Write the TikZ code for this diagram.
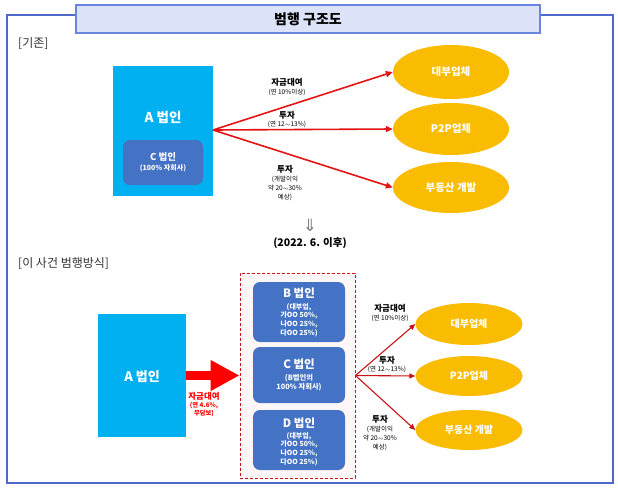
\documentclass[tikz,border=0pt]{standalone}
\usepackage{fontspec}
\setmainfont{Noto Sans CJK KR}
\newfontfamily\djv{DejaVu Sans}
\usetikzlibrary{arrows.meta,shapes.geometric}
\definecolor{frameblue}{RGB}{78,104,204}
\definecolor{titlefill}{RGB}{220,226,248}
\definecolor{titleline}{RGB}{104,132,222}
\definecolor{cyanbox}{RGB}{0,176,240}
\definecolor{darkbox}{RGB}{68,114,196}
\definecolor{gold}{RGB}{250,188,0}
\definecolor{arrred}{RGB}{228,20,20}
\definecolor{dashred}{RGB}{200,20,20}
\definecolor{dashfill}{RGB}{255,247,247}
\definecolor{txtgray}{RGB}{50,50,50}
\newcommand{\fs}[1]{\fontsize{#1}{#1}\selectfont}
\newcommand{\fss}[2]{\fontsize{#1}{#2}\selectfont}
\tikzset{
  cyanrect/.style={fill=cyanbox, draw=none, inner sep=0pt},
  bluebox/.style={fill=darkbox, draw=none, rounded corners=7pt, inner sep=0pt},
  goldell/.style={ellipse, fill=gold, draw=none, inner sep=0pt, text=white, font=\bfseries\fs{10.5}},
  thinarr/.style={draw=arrred, line width=1.6pt, -{Triangle[length=7pt,width=6pt]}},
  thinarr2/.style={draw=dashred, line width=1.1pt, -{Triangle[length=6pt,width=5pt]}},
  lbl/.style={inner sep=0pt, align=center, font=\bfseries\fs{8.5}, text=black},
  sublbl/.style={inner sep=0pt, align=center, font=\fss{6.5}{9}, text=black},
  wtitle/.style={inner sep=0pt, text=white, font=\bfseries},
}
\begin{document}
\begin{tikzpicture}[x=1pt,y=-1pt]
\useasboundingbox (0,0) rectangle (618,490);
\fill[white] (0,0) rectangle (618,490);
% outer frame
\draw[frameblue, line width=2pt] (7,15) rectangle (613,483);
\node[fill=titlefill, draw=titleline, line width=1.8pt, minimum width=464pt, minimum height=28pt, inner sep=0pt] (title) at (308,19) {};
\node[inner sep=0pt, font=\bfseries\fs{14}] (titletxt) at (title.center) {범행 구조도};
\node[anchor=west, inner sep=0pt, font=\fs{12}, text=txtgray] (old) at (18,44) {[기존]};

% ---------------- top part
\node[cyanrect, minimum width=100pt, minimum height=130pt] (atop) at (163,131) {};
\node[wtitle, font=\bfseries\fs{13.5}] (atoptxt) at (163,117) {A 법인};
\node[bluebox, minimum width=80pt, minimum height=45pt] (ctop) at (163,162.5) {};
\node[wtitle, font=\bfseries\fs{9.5}] (ctoptxt) at (163,157) {C 법인};
\node[inner sep=0pt, text=white, font=\bfseries\fs{7}] (ctopsub) at (163,168.5) {(100\% 자회사)};

\node[goldell, minimum width=116pt, minimum height=54pt] (e1) at (451,72) {대부업체};
\node[goldell, minimum width=116pt, minimum height=52pt] (e2) at (451,129) {P2P업체};
\node[goldell, minimum width=116pt, minimum height=51pt] (e3) at (451,187.5) {부동산 개발};

\coordinate (atopout) at (213,130);
\draw[thinarr] (atopout) -- (e1.west);
\draw[thinarr] (atopout) -- (e2.west);
\draw[thinarr] (atopout) -- (e3.west);

\node[lbl] (l1) at (287,82) {자금대여};
\node[sublbl] (l1s) at (287,92) {(연 10\%이상)};
\node[lbl] (l2) at (287,115) {투자};
\node[sublbl] (l2s) at (287,124.5) {(연 12$\sim$13\%)};
\node[lbl] (l3) at (285,169) {투자};
\node[sublbl] (l3s) at (285,188) {(개발이익\\약 20$\sim$30\%\\예상)};

% middle
\node[inner sep=0pt, font=\djv\fs{17}, text=gray] (darr) at (310,225) {⇓};
\node[inner sep=0pt, font=\bfseries\fs{10.5}] (date) at (310,243) {(2022. 6. 이후)};
\node[anchor=west, inner sep=0pt, font=\fs{12}, text=txtgray] (newl) at (18,264) {[이 사건 범행방식]};

% ---------------- bottom part
\node[cyanrect, minimum width=88pt, minimum height=123pt] (abot) at (142,375.5) {};
\node[wtitle, font=\bfseries\fs{13}] (abottxt) at (142,377) {A 법인};

\node[fill=dashfill, draw=dashred, densely dashed, line width=0.9pt, minimum width=115pt, minimum height=205pt, inner sep=0pt] (dash) at (297.5,375.5) {};

\draw[draw=red, line width=9pt, -{Triangle[length=29pt,width=29pt]}] (abot.east) -- (dash.west);
\node[inner sep=0pt, align=center, text=red, font=\bfseries\fs{8.5}] (rl) at (204,396) {자금대여};
\node[inner sep=0pt, align=center, text=red, font=\bfseries\fss{6.3}{8}] (rls) at (204,409) {(연 4.6\%,\\무담보)};

\node[bluebox, minimum width=92pt, minimum height=60pt] (b) at (299,312) {};
\node[wtitle, font=\bfseries\fs{11.5}] (btxt) at (299,293) {B 법인};
\node[inner sep=0pt, align=center, text=white, font=\bfseries\fss{7}{8.6}] (bsub) at (299,320) {(대부업,\\가OO 50\%,\\나OO 25\%,\\다OO 25\%)};

\node[bluebox, minimum width=92pt, minimum height=56pt] (c) at (299,375) {};
\node[wtitle, font=\bfseries\fs{11.5}] (ctxt) at (299,364) {C 법인};
\node[inner sep=0pt, align=center, text=white, font=\bfseries\fss{7.3}{9.5}] (csub) at (299,382.5) {(B법인의\\100\% 자회사)};

\node[bluebox, minimum width=92pt, minimum height=60pt] (d) at (299,440) {};
\node[wtitle, font=\bfseries\fs{11.5}] (dtxt) at (299,423) {D 법인};
\node[inner sep=0pt, align=center, text=white, font=\bfseries\fss{7}{8.6}] (dsub) at (299,449) {(대부업,\\가OO 50\%,\\나OO 25\%,\\다OO 25\%)};

\node[goldell, minimum width=107pt, minimum height=42pt, font=\bfseries\fs{10}] (f1) at (469,324) {대부업체};
\node[goldell, minimum width=107pt, minimum height=40pt, font=\bfseries\fs{10}] (f2) at (469,376) {P2P업체};
\node[goldell, minimum width=107pt, minimum height=40pt, font=\bfseries\fs{10}] (f3) at (469,430) {부동산 개발};

\draw[thinarr2] (dash.east) -- (f1.west);
\draw[thinarr2] (dash.east) -- (f2.west);
\draw[thinarr2] (dash.east) -- (f3.west);

\node[lbl] (m1) at (390,308) {자금대여};
\node[sublbl] (m1s) at (390,318) {(연 10\%이상)};
\node[lbl] (m2) at (387,360) {투자};
\node[sublbl] (m2s) at (387,369) {(연 12$\sim$13\%)};
\node[lbl] (m3) at (380,419) {투자};
\node[sublbl] (m3s) at (380,438) {(개발이익\\약 20$\sim$30\%\\예상)};
\end{tikzpicture}
\end{document}
